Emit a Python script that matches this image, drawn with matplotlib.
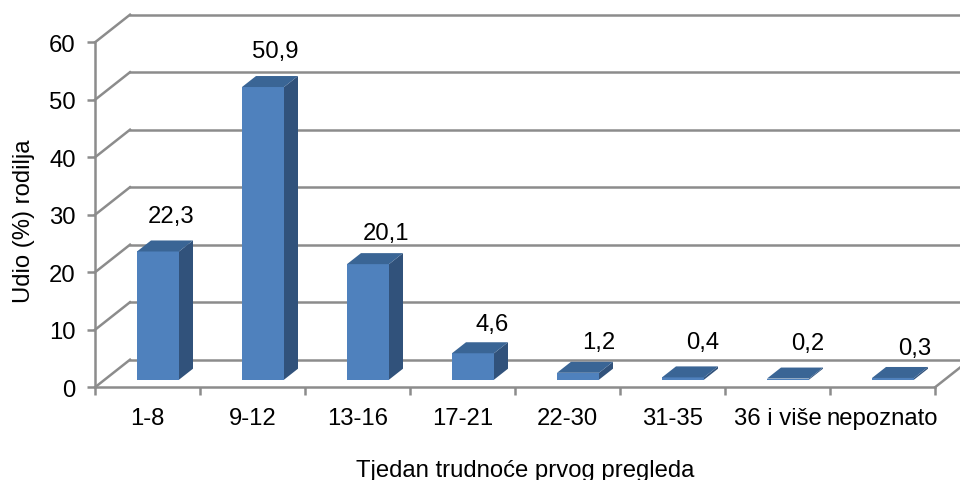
import matplotlib
matplotlib.use("Agg")
import matplotlib.pyplot as plt
from matplotlib.patches import Polygon

categories = ["1-8", "9-12", "13-16", "17-21", "22-30", "31-35", "36 i više", "nepoznato"]
values = [22.3, 50.9, 20.1, 4.6, 1.2, 0.4, 0.2, 0.3]
labels = ["22,3", "50,9", "20,1", "4,6", "1,2", "0,4", "0,2", "0,3"]
yticks = [0, 10, 20, 30, 40, 50, 60]
label_dx_px = [13, 12, 18, 19, 21, 20, 20, 22]
label_dy_px = [35, 36, 31, 29.5, 31, 35, 36, 30]

W, H = 960, 481
L, R, T, B = 95, 935, 43.3, 388.3
plt.rcParams["font.family"] = ["Liberation Sans", "DejaVu Sans"]
GRAY = "#8c8c8c"
FS = 17.2
LW = 1.8

fig = plt.figure(figsize=(W / 100, H / 100), dpi=100)
ax = fig.add_axes([L / W, 1 - B / H, (R - L) / W, (B - T) / H])
ax.set_xlim(0, len(categories))
ax.set_ylim(0, 60)
sx = (R - L) / len(categories)   # px per category
sy = (B - T) / 60                # px per unit

# depth offsets
wall_dx, wall_dy = 35 / sx, 27.6 / sy
base_dx, base_dy = 10.5 / sx, 7.6 / sy
bar_dx, bar_dy = 14 / sx, 11 / sy
bar_w = 42 / sx

# walls
for y in yticks:
    ax.plot([0, wall_dx], [y, y + wall_dy], color=GRAY, lw=LW, clip_on=False, zorder=1)
    ax.plot([wall_dx, len(categories) + 30 / sx], [y + wall_dy, y + wall_dy], color=GRAY, lw=LW,
            clip_on=False, zorder=1)
ax.plot([len(categories), len(categories) + wall_dx], [0, wall_dy], color=GRAY, lw=LW, clip_on=False, zorder=1)

# bars
for i, v in enumerate(values):
    x0 = i + 0.5 + base_dx - bar_w / 2
    x1 = x0 + bar_w
    y0 = base_dy
    y1 = base_dy + v
    ax.add_patch(Polygon([(x1, y0), (x1 + bar_dx, y0 + bar_dy), (x1 + bar_dx, y1 + bar_dy), (x1, y1)],
                         fc="#31527b", ec="none", clip_on=False, zorder=3))
    ax.bar(x0, v, width=bar_w, bottom=y0, align="edge", color="#4f81bd", clip_on=False, zorder=3)
    ax.add_patch(Polygon([(x0, y1), (x1, y1), (x1 + bar_dx, y1 + bar_dy), (x0 + bar_dx, y1 + bar_dy)],
                         fc="#3a6595", ec="none", clip_on=False, zorder=3))
    ax.annotate(labels[i], xy=(i + 0.5 + base_dx, y1), xytext=(label_dx_px[i] * 0.72, label_dy_px[i] * 0.72),
                textcoords="offset points", ha="center", va="center", fontsize=FS, color="black",
                annotation_clip=False, zorder=5)

for s in ("top", "right"):
    ax.spines[s].set_visible(False)
for s in ("left", "bottom"):
    ax.spines[s].set_color(GRAY)
    ax.spines[s].set_linewidth(LW)

ax.set_yticks(yticks)
ax.set_xticks(range(len(categories) + 1))
ax.set_xticklabels([])
ax.set_xticks([i + 0.5 for i in range(len(categories))], minor=True)
ax.set_xticklabels(categories, minor=True)
ax.tick_params(axis="x", which="minor", length=0, pad=14, labelsize=FS)
ax.tick_params(axis="x", which="major", length=6, width=LW, color=GRAY)
ax.tick_params(axis="y", length=6, width=LW, color=GRAY, pad=8, labelsize=FS)
ax.patch.set_alpha(0)

fig.text(525 / W, 1 - 471.5 / H, "Tjedan trudnoće prvog pregleda", ha="center", va="center", fontsize=FS)
fig.text(24.5 / W, 1 - 221 / H, "Udio (%) rodilja", ha="center", va="center", rotation=90, fontsize=FS)

fig.savefig("out.png", dpi=100)
